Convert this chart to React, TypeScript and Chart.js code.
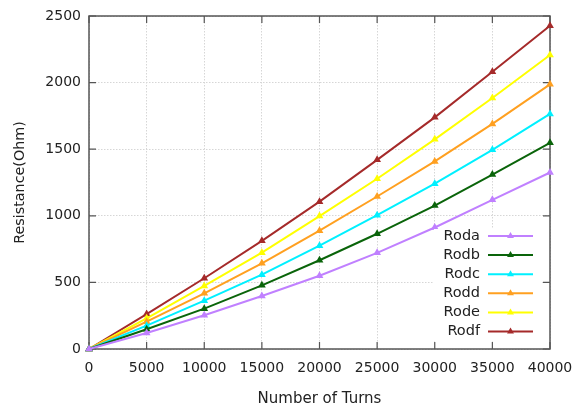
import React, { useEffect, useRef } from 'react';
import { Chart, registerables } from 'chart.js';

Chart.register(...registerables);

const turns = [0, 5000, 10000, 15000, 20000, 25000, 30000, 35000, 40000];
const roda = [0, 120, 253, 398, 550, 722, 912, 1120, 1325];
const rodb = [0, 148, 303, 478, 666, 865, 1077, 1310, 1548];
const rodc = [0, 175, 363, 558, 776, 1005, 1241, 1495, 1765];
const rodd = [0, 205, 418, 643, 888, 1145, 1408, 1690, 1987];
const rode = [0, 230, 473, 723, 998, 1278, 1574, 1884, 2207];
const rodf = [0, 262, 531, 812, 1106, 1420, 1739, 2081, 2427];

const seriesNames = ['Roda', 'Rodb', 'Rodc', 'Rodd', 'Rode', 'Rodf'];
const seriesValues = [roda, rodb, rodc, rodd, rode, rodf];
const seriesColors = ['#c080ff', '#0a640a', '#00f0ff', '#ffa020', '#ffff00', '#a52a2a'];

const xTitle = 'Number of Turns';
const yTitle = 'Resistance(Ohm)';

const FONT = '"DejaVu Sans", sans-serif';

function drawTriangle(ctx: CanvasRenderingContext2D, x: number, y: number, r: number, color: string) {
  ctx.beginPath();
  for (let i = 0; i < 3; i++) {
    const ang = (i * 2 * Math.PI) / 3;
    const px = x + Math.sin(ang) * r;
    const py = y - Math.cos(ang) * r;
    if (i === 0) ctx.moveTo(px, py);
    else ctx.lineTo(px, py);
  }
  ctx.closePath();
  ctx.fillStyle = color;
  ctx.fill();
}

const framePlugin = {
  id: 'frame',
  beforeDatasetsDraw(chart: any) {
    const { ctx, chartArea: a, scales } = chart;
    ctx.save();
    ctx.strokeStyle = '#555';
    ctx.lineWidth = 1.5;
    ctx.strokeRect(a.left, a.top, a.right - a.left, a.bottom - a.top);
    ctx.lineWidth = 1.2;
    const tl = 7;
    scales.x.ticks.forEach((t: any) => {
      const px = scales.x.getPixelForValue(t.value);
      ctx.beginPath();
      ctx.moveTo(px, a.bottom);
      ctx.lineTo(px, a.bottom - tl);
      ctx.moveTo(px, a.top);
      ctx.lineTo(px, a.top + tl);
      ctx.stroke();
    });
    scales.y.ticks.forEach((t: any) => {
      const py = scales.y.getPixelForValue(t.value);
      ctx.beginPath();
      ctx.moveTo(a.left, py);
      ctx.lineTo(a.left + tl, py);
      ctx.moveTo(a.right, py);
      ctx.lineTo(a.right - tl, py);
      ctx.stroke();
    });
    ctx.restore();
  },
  afterDatasetsDraw(chart: any) {
    const { ctx } = chart;
    const ds = chart.data.datasets;
    ctx.save();
    ctx.fillStyle = '#ffffff';
    ctx.fillRect(434, 229, 107, 112);
    ctx.font = '14.5px ' + FONT;
    ctx.textAlign = 'right';
    ctx.textBaseline = 'middle';
    ds.forEach((d: any, i: number) => {
      const y = 236 + i * 19.1;
      ctx.fillStyle = '#222';
      ctx.fillText(d.label, 480, y);
      ctx.strokeStyle = d.borderColor;
      ctx.lineWidth = 2;
      ctx.beginPath();
      ctx.moveTo(488, y);
      ctx.lineTo(533, y);
      ctx.stroke();
      drawTriangle(ctx, 510.5, y, 4, d.borderColor);
    });
    ctx.restore();
  },
};

export default function App() {
  const ref = useRef<HTMLCanvasElement | null>(null);

  useEffect(() => {
    document.body.style.margin = '0';
    if (!ref.current) return;
    const chart = new Chart(ref.current, {
      type: 'line',
      data: {
        datasets: seriesNames.map((name, i) => ({
          label: name,
          data: turns.map((t, j) => ({ x: t, y: seriesValues[i][j] })),
          borderColor: seriesColors[i],
          backgroundColor: seriesColors[i],
          borderWidth: 2,
          pointStyle: 'triangle',
          pointRadius: 4.5,
          pointHoverRadius: 4.5,
          pointBorderWidth: 0,
          tension: 0,
          clip: false as any,
        })),
      },
      options: {
        animation: false,
        responsive: false,
        maintainAspectRatio: false,
        events: [],
        layout: { padding: { left: 0, right: 23, top: 16, bottom: 0 } },
        plugins: {
          legend: { display: false },
          tooltip: { enabled: false },
        },
        scales: {
          x: {
            type: 'linear',
            min: 0,
            max: 40000,
            afterFit: (s: any) => {
              s.height = 59;
              s.paddingLeft = 0;
              s.paddingRight = 0;
            },
            ticks: {
              stepSize: 5000,
              color: '#222',
              font: { family: FONT, size: 14 },
              padding: 11,
              maxRotation: 0,
              autoSkip: false,
              callback: (v: any) => String(v),
            },
            grid: { color: '#d6d6d6', lineWidth: 1, drawTicks: false },
            border: { display: false, dash: [1.5, 1.5] },
            title: {
              display: true,
              text: xTitle,
              color: '#222',
              font: { family: FONT, size: 15 },
              padding: { top: 0, bottom: 0 },
            },
          },
          y: {
            type: 'linear',
            min: 0,
            max: 2500,
            afterFit: (s: any) => {
              s.width = 89;
              s.paddingTop = 0;
              s.paddingBottom = 0;
            },
            ticks: {
              stepSize: 500,
              color: '#222',
              font: { family: FONT, size: 14 },
              padding: 8,
              callback: (v: any) => String(v),
            },
            grid: { color: '#d6d6d6', lineWidth: 1, drawTicks: false },
            border: { display: false, dash: [1.5, 1.5] },
            title: {
              display: true,
              text: yTitle,
              color: '#222',
              font: { family: FONT, size: 14.3 },
              padding: { top: 12, bottom: 0 },
            },
          },
        },
      },
      plugins: [framePlugin],
    });
    return () => chart.destroy();
  }, []);

  return (
    <div style={{ width: 573, height: 408 }}>
      <canvas ref={ref} width={573} height={408} style={{ display: 'block' }} />
    </div>
  );
}
